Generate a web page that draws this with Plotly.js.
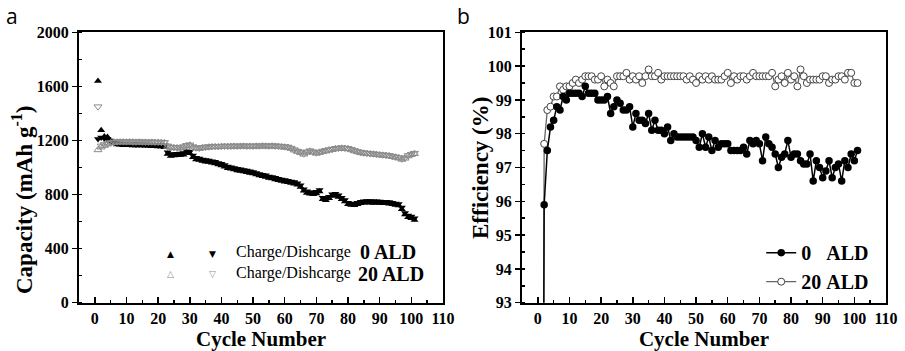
<!DOCTYPE html>
<html>
<head>
<meta charset="utf-8">
<script src="https://cdn.plot.ly/plotly-3.0.1.min.js"></script>
<style>html,body{margin:0;padding:0;background:#fff;}#chart{width:905px;height:351px;}</style>
</head>
<body>
<div id="chart"></div>
<script>
const cycles = [1,2,3,4,5,6,7,8,9,10,11,12,13,14,15,16,17,18,19,20,21,22,23,24,25,26,27,28,29,30,31,32,33,34,35,36,37,38,39,40,41,42,43,44,45,46,47,48,49,50,51,52,53,54,55,56,57,58,59,60,61,62,63,64,65,66,67,68,69,70,71,72,73,74,75,76,77,78,79,80,81,82,83,84,85,86,87,88,89,90,91,92,93,94,95,96,97,98,99,100,101];

// Capacity, 0 ALD (mAh g-1)
const charge0 = [1640,1275,1230,1225,1195,1180,1170,1168,1165,1165,1165,1163,1163,1162,1162,1160,1160,1158,1158,1155,1155,1150,1100,1085,1088,1090,1092,1095,1110,1105,1075,1060,1055,1048,1042,1040,1035,1030,1022,1015,1005,995,990,985,978,975,970,965,960,955,948,940,935,930,922,918,912,905,900,895,890,885,880,872,855,828,812,805,802,808,822,765,758,772,790,795,782,765,748,728,722,720,728,735,740,742,740,738,740,738,735,735,732,728,722,718,692,652,632,625,612];
const discharge0 = [1210,1222,1215,1210,1200,1188,1180,1178,1176,1175,1174,1173,1172,1172,1170,1170,1169,1168,1167,1165,1164,1162,1112,1098,1100,1102,1104,1108,1120,1116,1088,1072,1066,1060,1055,1052,1047,1042,1034,1027,1018,1008,1002,996,990,987,982,977,972,966,960,952,947,942,934,930,924,917,912,907,902,897,892,884,868,840,825,817,815,820,834,777,770,784,802,806,794,777,760,740,734,732,740,746,751,753,752,750,751,749,747,746,744,740,734,730,704,664,645,637,625];

// Capacity, 20 ALD (mAh g-1)
const charge20 = [1130,1150,1162,1172,1180,1185,1187,1188,1188,1187,1188,1187,1186,1187,1186,1186,1185,1186,1185,1185,1184,1183,1155,1148,1145,1145,1143,1150,1160,1165,1150,1142,1140,1145,1148,1150,1152,1153,1152,1154,1155,1154,1155,1156,1155,1156,1157,1155,1156,1155,1157,1156,1158,1157,1156,1158,1156,1155,1152,1150,1148,1140,1128,1118,1110,1098,1112,1120,1112,1105,1110,1118,1122,1128,1132,1138,1140,1142,1140,1138,1130,1122,1115,1108,1105,1102,1100,1098,1095,1092,1090,1088,1085,1080,1075,1070,1060,1068,1085,1095,1102];
const discharge20 = [1450,1160,1170,1178,1185,1189,1191,1192,1191,1191,1192,1190,1190,1191,1190,1189,1189,1190,1188,1188,1187,1186,1160,1152,1149,1148,1147,1154,1164,1168,1154,1146,1144,1149,1152,1154,1156,1157,1156,1158,1159,1158,1159,1160,1159,1160,1161,1159,1160,1159,1161,1160,1162,1161,1160,1162,1160,1159,1156,1154,1152,1144,1132,1122,1114,1102,1116,1124,1116,1109,1114,1122,1126,1132,1136,1142,1144,1146,1144,1142,1134,1126,1119,1112,1109,1106,1104,1102,1099,1096,1094,1092,1089,1084,1079,1074,1064,1072,1089,1099,1106];

// Coulombic efficiency (%)
const eff0 = [65.4,95.9,97.5,98.2,98.4,98.8,98.7,99.1,99.0,99.2,99.2,99.2,99.2,99.1,99.4,99.2,99.2,99.2,99.0,99.0,99.0,99.1,98.6,98.8,99.0,98.9,98.7,98.7,98.8,98.2,98.6,98.4,98.4,98.3,98.6,98.1,98.4,98.1,98.1,98.0,98.2,97.8,98.0,97.9,97.9,97.9,97.9,97.9,97.9,97.8,97.6,98.0,97.6,97.9,97.5,97.8,97.6,97.7,97.7,97.7,97.5,97.5,97.5,97.5,97.6,97.4,97.8,97.7,97.8,97.7,97.2,97.9,97.7,97.6,97.4,97.0,97.3,97.4,97.8,97.3,97.4,97.4,97.2,97.1,97.1,97.4,96.6,97.2,97.0,96.7,96.9,97.2,96.7,97.0,97.1,96.6,97.2,97.0,97.4,97.2,97.5];
const eff20 = [68.0,97.7,98.7,98.8,99.1,99.1,99.4,99.3,99.4,99.4,99.5,99.6,99.5,99.6,99.7,99.7,99.7,99.6,99.6,99.7,99.4,99.6,99.5,99.4,99.7,99.7,99.7,99.8,99.6,99.7,99.6,99.7,99.5,99.7,99.9,99.7,99.7,99.8,99.6,99.7,99.7,99.7,99.7,99.7,99.7,99.7,99.6,99.7,99.6,99.5,99.7,99.6,99.7,99.6,99.7,99.6,99.6,99.6,99.7,99.8,99.5,99.7,99.6,99.7,99.7,99.6,99.7,99.8,99.7,99.7,99.7,99.7,99.7,99.8,99.4,99.6,99.7,99.5,99.8,99.6,99.7,99.4,99.9,99.7,99.5,99.6,99.6,99.6,99.6,99.7,99.7,99.5,99.6,99.6,99.7,99.7,99.6,99.8,99.8,99.5,99.5];

const serif = '"Liberation Serif", "Times New Roman", serif';
const grey = '#8c8c8c';

const traces = [
  {x: cycles, y: charge0, type: 'scatter', mode: 'markers', name: 'Charge 0 ALD', showlegend: false,
   marker: {symbol: 'triangle-up', size: 7, color: '#000'}, xaxis: 'x', yaxis: 'y'},
  {x: cycles, y: discharge0, type: 'scatter', mode: 'markers', name: 'Discharge 0 ALD', showlegend: false,
   marker: {symbol: 'triangle-down', size: 7, color: '#000'}, xaxis: 'x', yaxis: 'y'},
  {x: cycles, y: charge20, type: 'scatter', mode: 'markers', name: 'Charge 20 ALD', showlegend: false,
   marker: {symbol: 'triangle-up-open', size: 7, color: grey, line: {width: 1, color: grey}}, xaxis: 'x', yaxis: 'y'},
  {x: cycles, y: discharge20, type: 'scatter', mode: 'markers', name: 'Discharge 20 ALD', showlegend: false,
   marker: {symbol: 'triangle-down-open', size: 7, color: grey, line: {width: 1, color: grey}}, xaxis: 'x', yaxis: 'y'},
  {x: cycles, y: eff20, type: 'scatter', mode: 'lines+markers', name: '20\u00a0ALD', legendrank: 2,
   line: {color: '#666', width: 1.3},
   marker: {symbol: 'circle', size: 7, color: '#fff', line: {color: '#444', width: 1}}, xaxis: 'x2', yaxis: 'y2'},
  {x: cycles, y: eff0, type: 'scatter', mode: 'lines+markers', name: '0\u00a0\u00a0\u00a0ALD', legendrank: 1,
   line: {color: '#000', width: 1.5},
   marker: {symbol: 'circle', size: 7.5, color: '#000'}, xaxis: 'x2', yaxis: 'y2'}
];

const tickFont = {family: serif, size: 16, color: '#000', weight: 'bold'};
const xTitleFont = {family: serif, size: 21, color: '#000', weight: 'bold'};
const yTitleFont = {family: serif, size: 23, color: '#000', weight: 'bold'};

function xax(domain, anchor) {
  return {
    domain: domain, anchor: anchor, range: [-5, 110], dtick: 10, tick0: 0,
    showline: true, linecolor: '#000', linewidth: 2, mirror: true,
    ticks: 'inside', ticklen: 6, tickwidth: 1.5, tickcolor: '#000',
    minor: {dtick: 5, ticks: 'inside', ticklen: 3, tickwidth: 1.5, tickcolor: '#000'},
    showgrid: false, zeroline: false, tickfont: tickFont, automargin: false,
    title: {text: 'Cycle Number', font: xTitleFont, standoff: 5}
  };
}

const layout = {
  width: 905, height: 351,
  margin: {l: 0, r: 0, t: 0, b: 0},
  paper_bgcolor: '#fff', plot_bgcolor: '#fff',
  showlegend: true,
  xaxis: xax([0.0873, 0.4895], 'y'),
  xaxis2: xax([0.5768, 0.979], 'y2'),
  yaxis: {
    domain: [0.1376, 0.908], anchor: 'x', range: [0, 2000], dtick: 400, tick0: 0,
    showline: true, linecolor: '#000', linewidth: 2, mirror: true,
    ticks: 'outside', ticklen: 5, tickwidth: 1.5, tickcolor: '#000',
    minor: {dtick: 200, ticks: 'inside', ticklen: 3, tickwidth: 1.5, tickcolor: '#000'},
    showgrid: false, zeroline: false, tickfont: tickFont, automargin: false
  },
  yaxis2: {
    domain: [0.1376, 0.908], anchor: 'x2', range: [93, 101], dtick: 1, tick0: 93,
    showline: true, linecolor: '#000', linewidth: 2, mirror: true,
    ticks: 'outside', ticklen: 5, tickwidth: 1.5, tickcolor: '#000',
    minor: {dtick: 0.5, ticks: 'inside', ticklen: 3, tickwidth: 1.5, tickcolor: '#000'},
    showgrid: false, zeroline: false, tickfont: tickFont, automargin: false
  },
  legend: {
    x: 0.966, xanchor: 'right', y: 0.142, yanchor: 'bottom',
    bgcolor: 'rgba(0,0,0,0)', borderwidth: 0,
    font: {family: serif, size: 20, color: '#000', weight: 'bold'},
    tracegroupgap: 0, itemwidth: 30
  },
  annotations: [
    {text: 'Capacity (mAh g<sup>-1</sup>)', xref: 'paper', yref: 'paper', x: 22/905, y: 1 - 200/351,
     textangle: -90, showarrow: false, font: yTitleFont, xanchor: 'center', yanchor: 'middle'},
    {text: 'Efficiency (%)', xref: 'paper', yref: 'paper', x: 480/905, y: 1 - 168/351,
     textangle: -90, showarrow: false, font: yTitleFont, xanchor: 'center', yanchor: 'middle'},
    {text: 'a', xref: 'paper', yref: 'paper', x: 12/905, y: 1 - 16/351, showarrow: false,
     font: {family: '"Open Sans", sans-serif', size: 21, color: '#000'}, xanchor: 'center', yanchor: 'middle'},
    {text: 'b', xref: 'paper', yref: 'paper', x: 463/905, y: 1 - 16/351, showarrow: false,
     font: {family: '"Open Sans", sans-serif', size: 21, color: '#000'}, xanchor: 'center', yanchor: 'middle'},
    {text: '\u25B2', xref: 'paper', yref: 'paper', x: 170/905, y: 1 - 254/351, showarrow: false,
     font: {family: '"DejaVu Sans"', size: 9, color: '#000'}, xanchor: 'center', yanchor: 'middle'},
    {text: '\u25BC', xref: 'paper', yref: 'paper', x: 212/905, y: 1 - 254/351, showarrow: false,
     font: {family: '"DejaVu Sans"', size: 9, color: '#000'}, xanchor: 'center', yanchor: 'middle'},
    {text: '\u25B3', xref: 'paper', yref: 'paper', x: 170/905, y: 1 - 274/351, showarrow: false,
     font: {family: '"DejaVu Sans"', size: 9, color: grey}, xanchor: 'center', yanchor: 'middle'},
    {text: '\u25BD', xref: 'paper', yref: 'paper', x: 212/905, y: 1 - 274/351, showarrow: false,
     font: {family: '"DejaVu Sans"', size: 9, color: grey}, xanchor: 'center', yanchor: 'middle'},
    {text: 'Charge/Dishcarge', xref: 'paper', yref: 'paper', x: 234/905, y: 1 - 252/351, showarrow: false,
     font: {family: serif, size: 16, color: '#000'}, xanchor: 'left', yanchor: 'middle'},
    {text: 'Charge/Dishcarge', xref: 'paper', yref: 'paper', x: 234/905, y: 1 - 273/351, showarrow: false,
     font: {family: serif, size: 16, color: '#000'}, xanchor: 'left', yanchor: 'middle'},
    {text: '0 ALD', xref: 'paper', yref: 'paper', x: 358/905, y: 1 - 252/351, showarrow: false,
     font: {family: serif, size: 20, color: '#000', weight: 'bold'}, xanchor: 'left', yanchor: 'middle'},
    {text: '20 ALD', xref: 'paper', yref: 'paper', x: 356/905, y: 1 - 274/351, showarrow: false,
     font: {family: serif, size: 20, color: '#000', weight: 'bold'}, xanchor: 'left', yanchor: 'middle'}
  ]
};

Plotly.newPlot('chart', traces, layout, {staticPlot: true, displayModeBar: false});
</script>
</body>
</html>
